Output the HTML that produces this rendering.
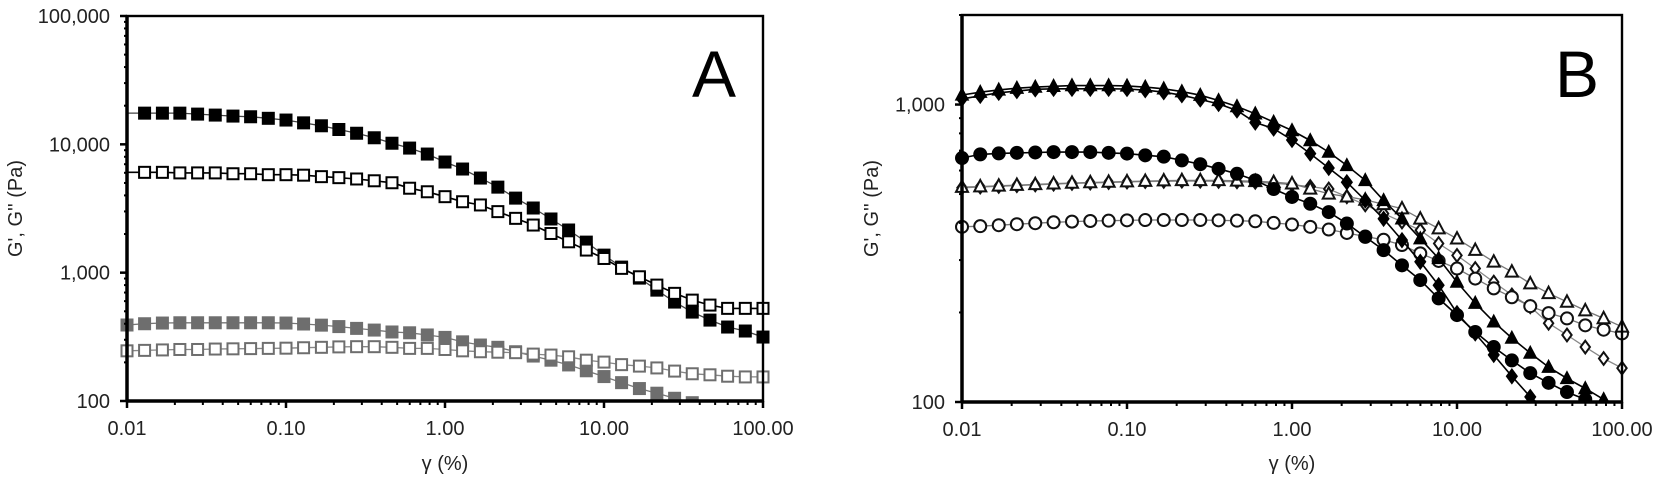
<!DOCTYPE html>
<html><head><meta charset="utf-8">
<style>
html,body{margin:0;padding:0;background:#fff;}
svg{display:block;font-family:"Liberation Sans",Arial,sans-serif;}
</style></head>
<body>
<svg id="chart" width="1658" height="477" viewBox="0 0 1658 477" xmlns="http://www.w3.org/2000/svg">
</svg>
<script>
// shared strain values (9 points per decade)
const strain = [0.01,0.0129,0.0167,0.0215,0.0278,0.0359,0.0464,0.0599,0.0774,0.1,0.129,0.167,0.215,0.278,0.359,0.464,0.599,0.774,1,1.29,1.67,2.15,2.78,3.59,4.64,5.99,7.74,10,12.9,16.7,21.5,27.8,35.9,46.4,59.9,77.4,100];

// Panel A series
const aFilledBlack = [17500,17500,17500,17500,17200,16900,16600,16400,15950,15460,14700,13950,13050,12200,11250,10200,9350,8400,7280,6420,5460,4640,3810,3190,2620,2150,1730,1370,1105,907,731,590,493,427,377,351,315];
const aHollowBlack = [6050,6050,6050,5990,5990,5990,5900,5900,5800,5800,5750,5600,5500,5370,5200,5020,4550,4270,3910,3570,3370,2990,2650,2350,2020,1740,1500,1290,1080,929,800,690,611,559,527,527,527];
const aFilledGrey = [391,400,405,407,407,407,407,407,407,405,398,390,380,368,357,345,340,327,313,289,273,262,242,224,208,191,172,155,139,125,115,105,97,90,84,78,72];
const aHollowGrey = [246,248,250,252,252,254,255,256,257,258,260,262,264,265,265,262,257,257,252,246,242,240,238,232,228,221,208,201,192,187,181,171,163,160,156,154,154];

// Panel B series
const bFilledTriangle = [1077,1100,1120,1135,1145,1152,1158,1158,1158,1155,1145,1130,1105,1075,1032,985,931,873,818,757,692,624,556,476,413,354,304,253,215,186,164,146,131,120,111,102,95];
const bFilledDiamond = [1045,1070,1095,1110,1125,1130,1130,1130,1130,1128,1118,1100,1075,1040,1005,955,870,830,760,684,612,548,476,413,350,296,247,199,170,144,122,104,92,82,74,67,60];
const bFilledCircle = [661,680,685,688,690,692,692,692,688,684,675,668,649,630,608,585,556,520,489,464,435,398,359,324,288,257,223,196,172,153,138,125,116,108,102,96,90];
const bHollowTriangle = [528,530,533,536,539,542,545,547,549,551,553,555,556,556,556,554,552,548,542,521,501,490,478,462,447,413,383,354,324,296,274,250,232,217,203,191,179];
const bHollowCircle = [388,390,393,396,399,402,404,406,407,408,409,409,409,409,408,407,405,400,395,388,380,370,360,351,337,316,298,281,260,241,225,210,199,191,181,175,170];
const bHollowDiamond = [525,528,531,534,537,540,543,545,547,549,551,552,553,553,552,550,548,544,538,530,520,490,460,430,403,378,341,311,281,253,229,209,184,168,153,140,130];

const xTicksLabels = ["0.01","0.10","1.00","10.00","100.00"];
const aYTickValues = [100,1000,10000,100000];
const aYTickLabels = ["100","1,000","10,000","100,000"];
const bYTickValues = [100,1000];
const bYTickLabels = ["100","1,000"];

const NS = "http://www.w3.org/2000/svg";
const svg = document.getElementById('chart');
function mk(tag, attrs, parent){
  const e = document.createElementNS(NS, tag);
  for (const k in attrs) e.setAttribute(k, attrs[k]);
  (parent||svg).appendChild(e);
  return e;
}

function drawPanel(P){
  const g = mk('g', {});
  
  
  const lx0 = Math.log10(P.xmin), lx1 = Math.log10(P.xmax);
  const ly0 = Math.log10(P.ymin), ly1 = Math.log10(P.ymax);
  const X = v => P.x0 + (Math.log10(v)-lx0)/(lx1-lx0)*(P.x1-P.x0);
  const Y = v => P.y1 - (Math.log10(v)-ly0)/(ly1-ly0)*(P.y1-P.y0);

  const cid = P.id + '-clip';
  const defs = mk('defs', {}, g);
  const cp = mk('clipPath', {id: cid}, defs);
  mk('rect', {x:P.x0-8, y:P.y0-8, width:P.x1-P.x0+16, height:P.y1-P.y0+8}, cp);

  P.series.forEach(s => {
    const sg = mk('g', {'clip-path':'url(#'+cid+')'}, g);
    
    
    const pts = strain.map((x,i)=>X(x).toFixed(1)+','+Y(s.data[i]).toFixed(1)).join(' ');
    const line = mk('polyline', {points:pts, fill:'none', stroke:s.line, 'stroke-width':s.lw}, sg);
    
    
    strain.forEach((x,i) => {
      if (i < (s.start||0)) return;
      const cx = X(x), cy = Y(s.data[i]);
      const fill = s.filled ? s.color : '#fff';
      const sw = s.filled ? 1 : 2;
      let m;
      const r = s.size;
      if (s.shape === 'square') m = mk('rect', {x:cx-r, y:cy-r, width:2*r, height:2*r, fill:fill, stroke:s.color, 'stroke-width':sw}, sg);
      else if (s.shape === 'circle') m = mk('circle', {cx:cx, cy:cy, r:r, fill:fill, stroke:s.color, 'stroke-width':sw}, sg);
      else if (s.shape === 'triangle') m = mk('polygon', {points:`${cx},${cy-r*1.1} ${cx+r},${cy+r*0.8} ${cx-r},${cy+r*0.8}`, fill:fill, stroke:s.color, 'stroke-width':sw}, sg);
      else m = mk('polygon', {points:`${cx},${cy-r*1.15} ${cx+r*0.85},${cy} ${cx},${cy+r*1.15} ${cx-r*0.85},${cy}`, fill:fill, stroke:s.color, 'stroke-width':sw}, sg);
      
      
    });
  });

  const fr = mk('rect', {x:P.x0, y:P.y0, width:P.x1-P.x0, height:P.y1-P.y0, fill:'none', stroke:'#000', 'stroke-width':2.4}, g);
  
  
  const yl = mk('line', {x1:P.x0, y1:P.y0, x2:P.x0, y2:P.y1+1, stroke:'#000', 'stroke-width':3.5}, g);
  
  
  const xl = mk('line', {x1:P.x0-1, y1:P.y1, x2:P.x1+1, y2:P.y1, stroke:'#000', 'stroke-width':3.5}, g);
  
  

  for (let d = lx0; d <= lx1; d++) {
    for (let m = 1; m <= 9; m++) {
      const v = Math.pow(10,d)*m;
      if (v > P.xmax*1.0001) break;
      const x = X(v);
      const len = m===1 ? 7 : 4;
      const t = mk('line', {x1:x, y1:P.y1, x2:x, y2:P.y1+len, stroke:'#000', 'stroke-width':m===1?2.5:2}, g);
      
      
    }
  }
  xTicksLabels.forEach((lab,i) => {
    const t = mk('text', {x:X(P.xmin*Math.pow(10,i)), y:P.y1+34, 'font-size':20, 'text-anchor':'middle', fill:'#222'}, g);
    t.textContent = lab;
    
    
  });
  for (let d = Math.floor(ly0); d <= ly1; d++) {
    for (let m = 1; m <= 9; m++) {
      const v = Math.pow(10,d)*m;
      if (v < P.ymin*0.999) continue;
      if (v > P.ymax*1.0001) break;
      const y = Y(v);
      const len = m===1 ? 7 : 3;
      const t = mk('line', {x1:P.x0-len, y1:y, x2:P.x0, y2:y, stroke:'#000', 'stroke-width':m===1?2.5:2}, g);
      
      
    }
  }
  P.yVals.forEach((v,i) => {
    const t = mk('text', {x:P.x0-17, y:Y(v)+7, 'font-size':20, 'text-anchor':'end', fill:'#222'}, g);
    t.textContent = P.yLabs[i];
    
    
  });
  const yt = mk('text', {x:0, y:0, 'font-size':20, 'text-anchor':'middle', fill:'#222', transform:`translate(${P.ytx},${(P.y0+P.y1)/2}) rotate(-90)`}, g);
  yt.textContent = "G', G'' (Pa)";
  
  
  const xt = mk('text', {x:(P.x0+P.x1)/2, y:470, 'font-size':20, 'text-anchor':'middle', fill:'#222'}, g);
  xt.textContent = "γ (%)";
  
  
  const pl = mk('text', {x:P.lx, y:97, 'font-size':66, 'text-anchor':'middle', fill:'#000'}, g);
  pl.textContent = P.letter;
  
  
}

drawPanel({id:'panel-a', x0:127, x1:763, y0:16, y1:401, xmin:0.01, xmax:100, ymin:100, ymax:100000,
  yVals:aYTickValues, yLabs:aYTickLabels, ytx:22, lx:714, letter:'A',
  series:[
    {name:'a-g-prime-black', data:aFilledBlack, shape:'square', filled:true, color:'#000', line:'#444', lw:1.3, size:6, start:1},
    {name:'a-g-double-prime-black', data:aHollowBlack, shape:'square', filled:false, color:'#000', line:'#000', lw:1.6, size:5.5, start:1},
    {name:'a-g-prime-grey', data:aFilledGrey, shape:'square', filled:true, color:'#6e6e6e', line:'#777', lw:1.3, size:6},
    {name:'a-g-double-prime-grey', data:aHollowGrey, shape:'square', filled:false, color:'#6e6e6e', line:'#888', lw:1.3, size:5.5}
  ]});
drawPanel({id:'panel-b', x0:962, x1:1622, y0:15, y1:402, xmin:0.01, xmax:100, ymin:100, ymax:2000,
  yVals:bYTickValues, yLabs:bYTickLabels, ytx:878, lx:1577, letter:'B',
  series:[
    {name:'b-hollow-diamond', data:bHollowDiamond, shape:'diamond', filled:false, color:'#111', line:'#888', lw:1.3, size:5.5},
    {name:'b-hollow-circle', data:bHollowCircle, shape:'circle', filled:false, color:'#111', line:'#777', lw:1.3, size:6},
    {name:'b-hollow-triangle', data:bHollowTriangle, shape:'triangle', filled:false, color:'#111', line:'#777', lw:1.3, size:6},
    {name:'b-filled-circle', data:bFilledCircle, shape:'circle', filled:true, color:'#000', line:'#000', lw:1.6, size:6.5},
    {name:'b-filled-diamond', data:bFilledDiamond, shape:'diamond', filled:true, color:'#000', line:'#000', lw:1.6, size:6.5},
    {name:'b-filled-triangle', data:bFilledTriangle, shape:'triangle', filled:true, color:'#000', line:'#000', lw:1.6, size:6.5}
  ]});
</script>
</body></html>
